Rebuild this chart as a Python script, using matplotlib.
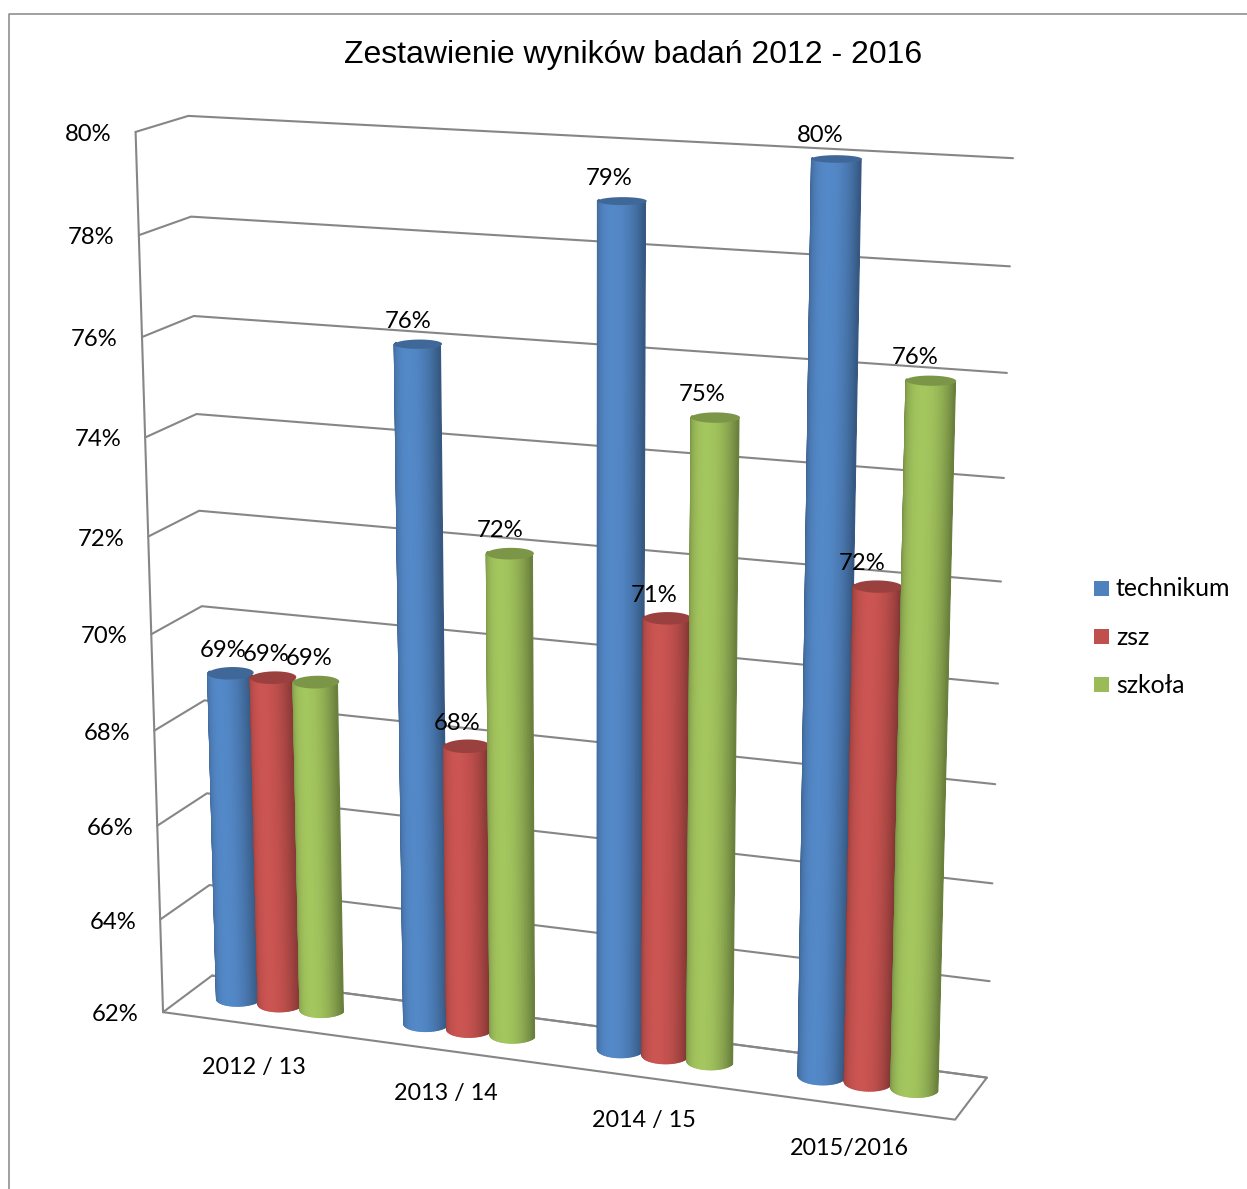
import numpy as np
import matplotlib
matplotlib.use("Agg")
import matplotlib.pyplot as plt
from matplotlib.collections import PolyCollection
from matplotlib.patches import Polygon, Rectangle

# chart data
categories = ["2012 / 13", "2013 / 14", "2014 / 15", "2015/2016"]
series_names = ["technikum", "zsz", "szkoła"]
technikum = [69, 76, 79, 80]
zsz = [69, 68, 71, 72]
szkola = [69, 72, 75, 76]
y_ticks = [62, 64, 66, 68, 70, 72, 74, 76, 78, 80]
colors = ["#4F81BD", "#C0504D", "#9BBB59"]

# camera calibration: box corners (x, value, depth) -> picture pixels
box = [(0, 62, 0), (0, 70, 0), (0, 80, 0), (0, 62, 1), (0, 70, 1), (0, 80, 1),
       (4, 62, 1), (4, 70, 1), (4, 80, 1), (4, 62, 0)]
pix = [(162, 1012), (153, 634), (135, 132), (212, 976), (202, 606), (188, 116),
       (987, 1077), (998, 684), (1013, 158), (955, 1120)]


def fit_camera(box, pix):
    rows = []
    for (x, v, z), (u, w) in zip(box, pix):
        p = [x, v, z, 1]
        rows.append(p + [0, 0, 0, 0] + [-u * c for c in p])
        rows.append([0, 0, 0, 0] + p + [-w * c for c in p])
    return np.linalg.svd(np.array(rows, dtype=float))[2][-1].reshape(3, 4)


CAM = fit_camera(box, pix)


def project(x, v, z):
    x, v, z = np.broadcast_arrays(x, v, z)
    h = CAM @ np.stack([x, v, z, np.ones_like(x, dtype=float)]).astype(float)
    return h[0] / h[2], h[1] / h[2]


def shade(color, f):
    rgb = np.array(matplotlib.colors.to_rgb(color))
    return tuple(np.clip(rgb * f, 0, 1))


def draw_cylinder(ax, cx, value, color, rx=0.11, rz=0.2, zc=0.5, base=62.05):
    t = np.linspace(np.pi, 2 * np.pi, 41)
    xs = cx + rx * np.cos(t)
    zs = zc + rz * np.sin(t)
    bx, by = project(xs, base, zs)
    tx, ty = project(xs, value, zs)
    quads, faces = [], []
    for i in range(len(t) - 1):
        quads.append([(bx[i], by[i]), (bx[i + 1], by[i + 1]), (tx[i + 1], ty[i + 1]), (tx[i], ty[i])])
        s = abs(np.sin((t[i] + t[i + 1]) / 2))
        faces.append(shade(color, 0.68 + 0.38 * s ** 1.3))
    ax.add_collection(PolyCollection(quads, facecolors=faces, edgecolors=faces, linewidths=1.0, zorder=3))
    a = np.linspace(0, 2 * np.pi, 60)
    ex, ey = project(cx + rx * np.cos(a), value, zc + rz * np.sin(a))
    ax.add_patch(Polygon(np.c_[ex, ey], closed=True, facecolor=shade(color, 0.8), edgecolor="none", zorder=3))


fig = plt.figure(figsize=(12.47, 11.89), dpi=100)
ax = fig.add_axes([0, 0, 1, 1])
ax.set_xlim(0, 1247)
ax.set_ylim(1189, 0)
ax.axis("off")

# outer chart frame runs off the picture on the right and bottom
ax.plot([8.5, 8.5, 1247], [1189, 13.5, 13.5], color="#868686", lw=1.1)

GRID = dict(color="#868686", lw=1.5, solid_capstyle="round", solid_joinstyle="round", zorder=2)
for v in y_ticks:
    gx, gy = project([0, 0, 4], v, [0, 1, 1])
    ax.plot(gx, gy, **GRID)
ax.plot(*project(0, [62, 80], 0), **GRID)
ax.plot(*project([0, 4, 4, 0], 62, [0, 0, 1, 1]), **GRID)

TXT = dict(family="Lato", fontsize=17.2, color="black", ha="center", va="center", zorder=5)
for v in y_ticks:
    px, py = project(0, v, 0)
    ax.text(px - 47.5, py + 2.5, f"{v}%", **TXT)

for i, name in enumerate(categories):
    px, py = project(i + 0.5, 62, 0)
    ax.text(px - 2 + 0.7 * i, py + 43, name, **{**TXT, "fontsize": 16.8})

all_series = [technikum, zsz, szkola]
bar_step = 0.225
for i in range(len(categories)):
    for j, vals in enumerate(all_series):
        draw_cylinder(ax, i + 0.505 + (j - 1) * bar_step, vals[i], colors[j])

for i in range(len(categories)):
    for j, vals in enumerate(all_series):
        px, py = project(i + 0.5 + (j - 1) * bar_step, vals[i], 0.5)
        ax.text(px - 6.5 - 2.9 * i, py - 23, f"{vals[i]}%", **TXT)

ax.text(633, 55, "Zestawienie wyników badań 2012 - 2016", family="Liberation Sans",
        fontsize=23, ha="center", va="center", color="black")

for j, name in enumerate(series_names):
    ly = 588 + 48.3 * j
    ax.add_patch(Rectangle((1094, ly - 7.5), 15, 15, facecolor=colors[j], edgecolor="none"))
    ax.text(1116, ly + 1, name, family="Lato", fontsize=17.9, ha="left", va="center", color="black")

fig.savefig("out.png", dpi=100)
